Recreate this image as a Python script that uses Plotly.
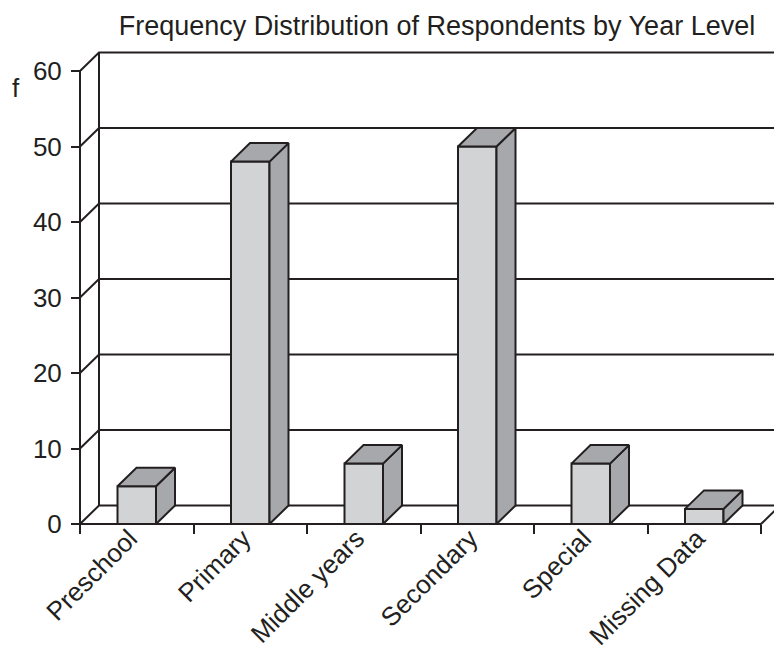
import plotly.graph_objects as go

# ---- data ----
categories = ["Preschool", "Primary", "Middle years", "Secondary", "Special", "Missing Data"]
frequencies = [5, 48, 8, 50, 8, 2]
y_ticks = [0, 10, 20, 30, 40, 50, 60]
title_text = "Frequency Distribution of Respondents by Year Level"
y_label = "f"

# ---- styling ----
W, H = 774, 652
FONT = "Liberation Sans, Arial, sans-serif"
FS = 26
INK = "#231f20"
FRONT = "#d2d3d5"
SHADE = "#a7a8ab"
LW = 2

# pixel geometry of the pseudo-3D frame
X_PX = 113.5          # pixels per category
Y_PX = 7.55           # pixels per unit of frequency
ORIGIN = (80, 524)    # pixel position of (category edge -0.5, value 0)
DEPTH_PX = (19, 18.5) # back-wall offset in pixels
BAR_W = 38.5 / X_PX   # bar width in category units

dx = DEPTH_PX[0] / X_PX
dy = DEPTH_PX[1] / Y_PX
x0 = -0.5 - ORIGIN[0] / X_PX
x1 = x0 + W / X_PX
y1 = ORIGIN[1] / Y_PX
y0 = y1 - H / Y_PX
n = len(categories)
x_left, x_right = -0.5, n - 0.5
y_top = max(y_ticks)

fig = go.Figure()


def add_line(xs, ys, width=LW):
    fig.add_trace(go.Scatter(x=xs, y=ys, mode="lines",
                             line=dict(color=INK, width=width),
                             hoverinfo="skip", showlegend=False))


def add_face(xs, ys, color):
    fig.add_trace(go.Scatter(x=xs + [xs[0]], y=ys + [ys[0]], mode="lines",
                             fill="toself", fillcolor=color,
                             line=dict(color=INK, width=LW),
                             hoverinfo="skip", showlegend=False))


# back wall gridlines with their diagonal links to the front axis
gx, gy = [], []
for v in y_ticks:
    gx += [x_left, x_left + dx, x1 + 1, None]
    gy += [v, v + dy, v + dy, None]
add_line(gx, gy)
# back wall left edge
add_line([x_left + dx, x_left + dx], [dy, y_top + dy])
# front value axis
add_line([x_left, x_left], [0, y_top])
# front floor edge with its right-hand diagonal
add_line([x_left, x_right, x_right + dx], [0, 0, dy])

# 3D bars: front, side and top faces
for i, v in enumerate(frequencies):
    a, b = i - BAR_W / 2, i + BAR_W / 2
    add_face([a, b, b, a], [0, 0, v, v], FRONT)
    add_face([b, b + dx, b + dx, b], [0, dy, v + dy, v], SHADE)
    add_face([a, a + dx, b + dx, b], [v, v + dy, v + dy, v], SHADE)

fig.add_annotation(text=y_label, x=16 / W, y=1 - 88 / H, xref="paper", yref="paper",
                   showarrow=False, font=dict(family=FONT, size=FS, color=INK),
                   xanchor="center", yanchor="middle")

fig.update_layout(
    width=W, height=H,
    margin=dict(l=0, r=0, t=0, b=0),
    paper_bgcolor="white", plot_bgcolor="white",
    showlegend=False,
    title=dict(text=title_text, x=437 / W, y=1 - 26 / H, xref="paper", yref="container",
               xanchor="center", yanchor="middle",
               font=dict(family=FONT, size=27, color=INK)),
    xaxis=dict(range=[x0, x1], anchor="free", position=(H - ORIGIN[1]) / H,
               showgrid=False, zeroline=False, showline=False,
               tickmode="array", tickvals=list(range(n)), ticktext=categories,
               tickangle=-45, ticks="outside", ticklen=1, tickcolor="rgba(0,0,0,0)",
               ticklabelshift=-7, ticklabelstandoff=-13,
               tickfont=dict(family=FONT, size=FS, color=INK),
               minor=dict(ticks="outside", ticklen=9, tickwidth=LW, tickcolor=INK,
                          tick0=-0.5, dtick=1, showgrid=False),
               automargin=False, fixedrange=True),
    yaxis=dict(range=[y0, y1], anchor="free", position=ORIGIN[0] / W,
               showgrid=False, zeroline=False, showline=False,
               tickmode="array", tickvals=y_ticks,
               ticks="outside", ticklen=9, tickwidth=LW, tickcolor=INK,
               ticklabelstandoff=4,
               tickfont=dict(family=FONT, size=FS, color=INK),
               automargin=False, fixedrange=True),
)

fig.write_html("out.html")
